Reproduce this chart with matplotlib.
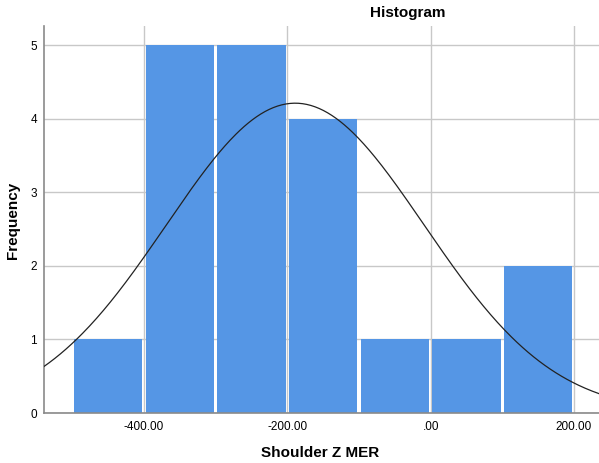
import numpy
from matplotlib import pyplot

# histogram of Shoulder Z MER, bin width 100
bin_edges = [-500, -400, -300, -200, -100, 0, 100, 200]
counts = [1, 5, 5, 4, 1, 1, 2]
mean = -189.0
std_dev = 180.0
x_ticks = [-400, -200, 0, 200]
x_tick_labels = ['-400.00', '-200.00', '.00', '200.00']
y_ticks = [0, 1, 2, 3, 4, 5]

pyplot.rcParams['font.family'] = ['Liberation Sans', 'DejaVu Sans']

fig = pyplot.figure(figsize=(5.99, 4.63), dpi=100)
ax = fig.add_axes([44/599, 50/463, 555/599, 387/463])

n = sum(counts)
width = bin_edges[1] - bin_edges[0]
lefts = numpy.array(bin_edges[:-1], dtype=float)
ax.bar(lefts + 2.5, counts, width=width - 5, align='edge',
       color='#5596e5', edgecolor='none', zorder=2)

# fitted normal curve scaled to the counts
x = numpy.linspace(-540, 235, 400)
y = n*width/(std_dev*numpy.sqrt(2*numpy.pi))*numpy.exp(-0.5*((x - mean)/std_dev)**2)
ax.plot(x, y, color='#222222', linewidth=0.9, zorder=3)

ax.set_xlim(-539.5, 234.9)
ax.set_ylim(0, 5.26)
ax.set_xticks(x_ticks)
ax.set_xticklabels(x_tick_labels)
ax.set_yticks(y_ticks)
ax.tick_params(length=0, labelsize=8.5, colors='black')
ax.tick_params(axis='x', pad=6)
ax.tick_params(axis='y', pad=5)
ax.grid(True, color='#c8c8c8', linewidth=1, zorder=0)
ax.set_axisbelow(True)
for side in ['top', 'right']:
  ax.spines[side].set_visible(False)
for side in ['left', 'bottom']:
  ax.spines[side].set_color('#8a8a8a')
  ax.spines[side].set_linewidth(1.2)

fig.text(408/599, 1 - 13/463, 'Histogram', ha='center', va='center',
         fontsize=11, fontweight='bold')
fig.text(320/599, 1 - 453/463, 'Shoulder Z MER', ha='center', va='center',
         fontsize=11, fontweight='bold')
fig.text(13/599, 1 - 220/463, 'Frequency', ha='center', va='center',
         rotation=90, fontsize=11, fontweight='bold')

pyplot.savefig('out.png', dpi=100)
